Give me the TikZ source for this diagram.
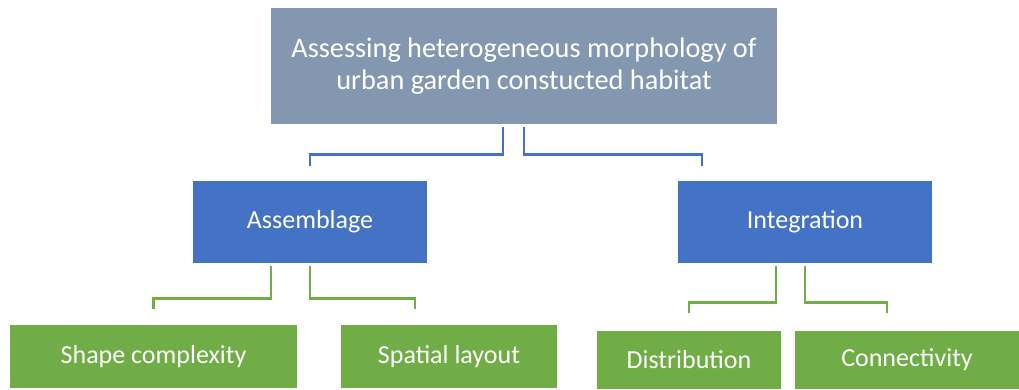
\documentclass[tikz,border=0pt]{standalone}
\usepackage{fontspec}
\setmainfont{Carlito}
\definecolor{topgray}{HTML}{8497B0}
\definecolor{midblue}{HTML}{4472C4}
\definecolor{leafgreen}{HTML}{70AD47}
\begin{document}
\begin{tikzpicture}[x=1pt, y=-1pt,
    box/.style={inner sep=0pt, text=white, align=center, font=\fontsize{26}{32}\selectfont},
    topbox/.style={box, fill=topgray, minimum width=506pt, minimum height=116pt, font=\fontsize{28.3}{32}\selectfont},
    midbox/.style={box, fill=midblue, minimum height=82pt},
    leafbox/.style={box, fill=leafgreen},
    bluelink/.style={draw=midblue, line width=2.6pt},
    greenlink/.style={draw=leafgreen, line width=2.6pt}]
				\useasboundingbox (0,0) rectangle (1019,389);
				\node[topbox] (top) at (524,66) {Assessing heterogeneous morphology of\\urban garden constucted habitat};
				\node[midbox, minimum width=234pt] (assem) at (310,222) {Assemblage};
				\node[midbox, minimum width=254pt] (integ) at (805,222) {Integration};
				\node[leafbox, minimum width=287pt, minimum height=63pt] (shape) at (153.5,356.5) {Shape complexity};
				\node[leafbox, minimum width=216pt, minimum height=63pt] (spatial) at (449,356.5) {Spatial layout};
				\node[leafbox, minimum width=184pt, minimum height=58pt] (distrib) at (689,360) {Distribution};
				\node[leafbox, minimum width=224pt, minimum height=58pt] (conn) at (907,360) {Connectivity};
				\draw[bluelink] ([xshift=-21pt,yshift=-3pt]top.south) -- ([xshift=-21pt,yshift=-30pt]top.south) -| ([yshift=15pt]assem.north);
				\draw[bluelink] ([yshift=-3pt]top.south) -- ([yshift=-30pt]top.south) -| ([xshift=-103pt,yshift=15pt]integ.north);
				\draw[greenlink] ([xshift=-39pt,yshift=-3pt]assem.south) -- ([xshift=-39pt,yshift=-35pt]assem.south) -| ([yshift=16pt]shape.north);
				\draw[greenlink] ([yshift=-3pt]assem.south) -- ([yshift=-35pt]assem.south) -| ([xshift=-34pt,yshift=16pt]spatial.north);
				\draw[greenlink] ([xshift=-29pt,yshift=-3pt]integ.south) -- ([xshift=-29pt,yshift=-39pt]integ.south) -| ([yshift=18pt]distrib.north);
				\draw[greenlink] ([yshift=-3pt]integ.south) -- ([yshift=-39pt]integ.south) -| ([xshift=-20pt,yshift=18pt]conn.north);
\end{tikzpicture}
\end{document}
